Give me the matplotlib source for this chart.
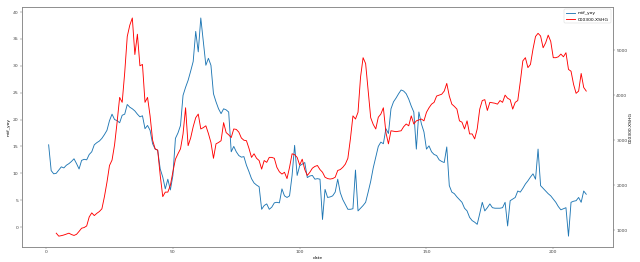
import numpy as np
import matplotlib
matplotlib.use('Agg')
import matplotlib.pyplot as plt

# x index of the weekly samples
dates = np.arange(1, 214)

mtf_yoy = [15.3, 10.5, 9.9, 10.0, 10.6, 11.2, 11.0, 11.5, 11.8, 12.2,
           12.7, 11.8, 10.8, 12.4, 12.6, 12.5, 13.5, 14.0, 15.3, 15.7,
           16.0, 16.5, 17.2, 18.0, 19.8, 21.0, 20.0, 19.8, 19.4, 20.8,
           21.0, 22.8, 22.3, 22.0, 21.6, 21.0, 20.5, 20.7, 18.3, 18.9,
           18.0, 15.5, 14.5, 14.3, 10.8, 9.3, 7.1, 8.9, 6.9, 9.6,
           16.5, 17.5, 18.9, 24.5, 26.0, 27.3, 29.0, 30.8, 36.4, 32.6,
           38.9, 34.5, 30.1, 31.4, 30.1, 24.8, 23.3, 22.0, 21.1, 22.0,
           21.8, 21.4, 14.0, 15.0, 14.0, 13.3, 13.0, 13.1, 11.5, 10.3,
           9.0, 8.2, 7.8, 7.5, 3.3, 4.0, 4.3, 3.3, 3.7, 4.5,
           4.6, 4.5, 7.1, 5.8, 5.5, 5.8, 9.6, 15.2, 9.6, 11.4,
           11.7, 12.0, 9.2, 9.5, 9.6, 8.9, 9.0, 8.9, 1.4, 7.0,
           5.5, 5.6, 5.8, 6.5, 8.9, 6.4, 5.1, 4.2, 3.3, 3.3,
           3.4, 10.6, 3.0, 3.5, 4.0, 4.6, 6.5, 8.5, 11.0, 13.0,
           15.0, 15.8, 15.5, 18.3, 17.4, 22.0, 23.3, 24.0, 24.8, 25.5,
           25.3, 24.8, 23.8, 22.5, 21.4, 14.5, 21.4, 19.2, 17.7, 14.5,
           15.1, 14.0, 13.5, 13.3, 12.5, 12.2, 12.0, 14.9, 7.7, 6.5,
           6.2, 5.6, 5.1, 4.6, 3.5, 3.0, 1.8, 1.2, 0.9, 0.5,
           2.5, 4.6, 3.0, 3.6, 4.3, 3.6, 3.5, 3.5, 3.5, 3.6,
           4.6, 0.2, 4.9, 5.2, 5.5, 6.7, 6.5, 7.2, 8.0, 8.6,
           9.3, 9.9, 8.9, 14.5, 7.7, 7.2, 6.7, 6.2, 5.8, 5.2,
           4.6, 3.8, 3.2, 3.4, 3.6, -1.7, 4.6, 4.8, 4.9, 5.5,
           4.6, 6.7, 6.1]

hs300 = [np.nan, np.nan, np.nan,
         940, 874, 885, 900, 920, 940, 910, 890, 915, 980,
         1050, 1065, 1100, 1300, 1390, 1330, 1380, 1420, 1480, 1750,
         2070, 2440, 2560, 2900, 3400, 3950, 3840, 4500, 5300, 5550,
         5710, 4900, 5350, 4650, 4680, 3840, 3950, 3540, 3000, 2810,
         2780, 2220, 1750, 1850, 1850, 2000, 2300, 2580, 2700, 2810,
         3140, 3720, 2880, 3050, 3300, 3500, 3580, 3250, 3280, 3320,
         3150, 2950, 2600, 2920, 2950, 2990, 3390, 3170, 3120, 3060,
         3250, 3240, 3180, 3050, 3000, 2990, 2820, 2620, 2700, 2600,
         2550, 2360, 2550, 2510, 2620, 2620, 2600, 2400, 2300, 2250,
         2290, 2150, 2400, 2700, 2680, 2620, 2450, 2580, 2350, 2220,
         2290, 2380, 2420, 2440, 2350, 2290, 2180, 2150, 2140, 2150,
         2180, 2330, 2350, 2400, 2470, 2600, 3030, 3540, 3470, 3620,
         4400, 4830, 4700, 4100, 3500, 3350, 3250, 3510, 3580, 3720,
         3170, 2920, 3210, 3200, 3190, 3200, 3210, 3300, 3360, 3320,
         3540, 3360, 3430, 3450, 3470, 3430, 3620, 3720, 3800, 3840,
         3980, 4000, 4020, 4090, 4260, 3980, 3800, 3750, 3690, 3430,
         3400, 3250, 3430, 3140, 3140, 3030, 3250, 3690, 3880, 3900,
         3660, 3840, 3830, 3820, 3800, 3880, 3840, 4000, 3930, 3900,
         3690, 3840, 3880, 4300, 4760, 4830, 4610, 4680, 5020, 5300,
         5370, 5310, 5050, 5160, 5330, 5190, 4830, 4830, 4850, 4910,
         4850, 4940, 4570, 4530, 4240, 4040, 4090, 4480, 4170, 4090]

fig, ax1 = plt.subplots(figsize=(20, 8.1875))
fig.subplots_adjust(left=0.034, right=0.958, top=0.973, bottom=0.057)

l1, = ax1.plot(dates, mtf_yoy, color='#1f77b4', linewidth=2, label='mtf_yoy')
ax1.set_xlabel('date')
ax1.set_ylabel('mtf_yoy')
ax1.set_yticks(np.arange(0, 41, 5))

ax2 = ax1.twinx()
l2, = ax2.plot(dates, hs300, color='red', linewidth=2, label='000300.XSHG')
ax2.set_ylabel('000300.XSHG')
ax2.set_yticks(np.arange(1000, 5001, 1000))

for ax in (ax1, ax2):
    for s in ax.spines.values():
        s.set_color('#888888')
        s.set_linewidth(1.6)
    ax.tick_params(colors='#444444')

ax1.legend(handles=[l1, l2], loc='upper right')
ax1.set_xticks([0, 50, 100, 150, 200])

fig.savefig('out.png', dpi=32)
